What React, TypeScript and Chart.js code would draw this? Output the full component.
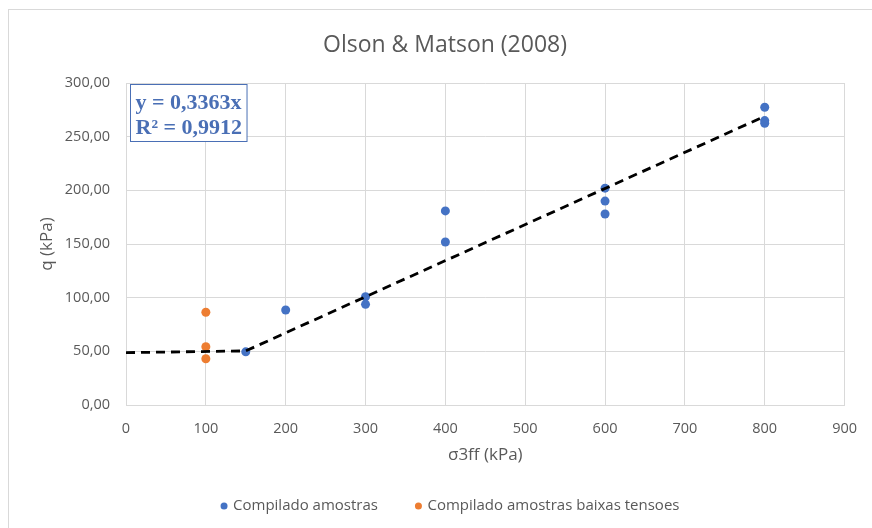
import React, { useEffect, useRef } from "react";
import { Chart, registerables } from "chart.js";

Chart.register(...registerables);

const chartTitle = "Olson & Matson (2008)";
const xAxisTitle = "σ3ff (kPa)";
const yAxisTitle = "q (kPa)";

const seriesNames = ["Compilado amostras", "Compilado amostras baixas tensoes"];

const compiladoX = [150, 200, 300, 300, 400, 400, 600, 600, 600, 800, 800, 800];
const compiladoY = [49.5, 88.5, 100.9, 93.8, 180.8, 151.9, 202, 190, 178, 277.4, 265, 262.5];

const baixasX = [100, 100, 100];
const baixasY = [86.4, 54.3, 43.1];

const trendX = [0, 150, 800];
const trendY = [48.8, 50.4, 269];

const equationLines = ["y = 0,3363x", "R² = 0,9912"];

const xMin = 0, xMax = 900, xStep = 100;
const yMin = 0, yMax = 300, yStep = 50;

const toPts = (xs: number[], ys: number[]) => xs.map((x, i) => ({ x, y: ys[i] }));

const BLUE = "#4472C4";
const ORANGE = "#ED7D31";
const GRID = "#d9d9d9";
const TEXT = "#595959";
const FONT = "'Open Sans', 'Noto Sans', sans-serif";

const framePlugin = {
  id: "frameEquationLegend",
  beforeDraw(chart: any) {
    const ctx = chart.ctx;
    ctx.save();
    ctx.fillStyle = "#ffffff";
    ctx.fillRect(0, 0, chart.width, chart.height);
    ctx.strokeStyle = GRID;
    ctx.lineWidth = 1;
    ctx.strokeRect(8.5, 9.5, chart.width + 20, chart.height + 20);
    ctx.restore();
  },
  afterDraw(chart: any) {
    const ctx = chart.ctx;
    const a = chart.chartArea;
    ctx.save();
    // equation box
    ctx.font = "bold 22px 'Liberation Serif', 'Times New Roman', serif";
    const w = Math.max(...equationLines.map((t) => ctx.measureText(t).width));
    const bx = a.left + 4.5;
    const by = a.top + 1.5;
    const bw = w + 10;
    const bh = 57;
    ctx.fillStyle = "#ffffff";
    ctx.fillRect(bx, by, bw, bh);
    ctx.strokeStyle = "#4a6fb5";
    ctx.lineWidth = 1;
    ctx.strokeRect(bx, by, bw, bh);
    ctx.fillStyle = "#4a6fb5";
    ctx.textBaseline = "middle";
    ctx.textAlign = "left";
    ctx.fillText(equationLines[0], bx + 5, by + 19);
    ctx.fillText(equationLines[1], bx + 5, by + 44);

    // legend
    const items = chart.data.datasets.filter((d: any) => d.label !== "trend");
    ctx.font = "15px " + FONT;
    const r = 3.5, gap = 5.5, spacing = 37;
    const widths = items.map((d: any) => 2 * r + gap + ctx.measureText(d.label).width);
    const total = widths.reduce((s: number, v: number) => s + v, 0) + spacing * (items.length - 1);
    let x = chart.width / 2 + 14 - total / 2;
    const y = 506;
    items.forEach((d: any, i: number) => {
      ctx.fillStyle = d.backgroundColor;
      ctx.beginPath();
      ctx.arc(x + r, y, r, 0, Math.PI * 2);
      ctx.fill();
      ctx.fillStyle = TEXT;
      ctx.textBaseline = "middle";
      ctx.fillText(d.label, x + 2 * r + gap, y);
      x += widths[i] + spacing;
    });
    ctx.restore();
  },
};

export default function App() {
  const ref = useRef<HTMLCanvasElement | null>(null);
  useEffect(() => {
    if (!ref.current) return;
    const chart = new Chart(ref.current, {
      type: "scatter",
      data: {
        datasets: [
          {
            type: "line",
            label: "trend",
            data: toPts(trendX, trendY),
            borderColor: "#000000",
            borderWidth: 2.8,
            borderDash: [9, 6],
            pointRadius: 0,
            fill: false,
            tension: 0,
          } as any,
          {
            label: seriesNames[0],
            data: toPts(compiladoX, compiladoY),
            backgroundColor: BLUE,
            borderColor: BLUE,
            pointRadius: 4.5,
            pointBorderWidth: 0,
          },
          {
            label: seriesNames[1],
            data: toPts(baixasX, baixasY),
            backgroundColor: ORANGE,
            borderColor: ORANGE,
            pointRadius: 4.5,
            pointBorderWidth: 0,
          },
        ],
      },
      options: {
        animation: false,
        responsive: false,
        devicePixelRatio: 1,
        layout: { padding: { left: 41, right: 23, top: 10, bottom: 0 } },
        plugins: {
          title: {
            display: true,
            text: chartTitle,
            color: TEXT,
            font: { family: FONT, size: 23, weight: "normal" as any },
            padding: { top: 21.2, bottom: 24.2 },
          },
          legend: { display: false },
          tooltip: { enabled: false },
        },
        scales: {
          x: {
            type: "linear",
            min: xMin,
            max: xMax,
            ticks: {
              stepSize: xStep,
              color: TEXT,
              font: { family: FONT, size: 14.5 },
              padding: 15,
            },
            grid: { color: GRID, drawTicks: false },
            border: { color: GRID },
            title: {
              display: true,
              text: xAxisTitle,
              color: TEXT,
              font: { family: FONT, size: 17 },
              padding: { top: 0, bottom: 62.8 },
            },
            afterFit: (s: any) => {
              s.height = 123;
            },
          },
          y: {
            type: "linear",
            min: yMin,
            max: yMax,
            ticks: {
              stepSize: yStep,
              color: TEXT,
              font: { family: FONT, size: 14.5 },
              padding: 16,
              callback: (v: any) => Number(v).toFixed(2).replace(".", ","),
            },
            grid: { color: GRID, drawTicks: false },
            border: { color: GRID },
            title: {
              display: true,
              text: yAxisTitle,
              color: TEXT,
              font: { family: FONT, size: 17 },
              padding: { top: -4, bottom: 0 },
            },
            afterFit: (s: any) => {
              s.width = 85;
            },
          },
        },
      },
      plugins: [framePlugin],
    });
    return () => chart.destroy();
  }, []);
  return (
    <div style={{ position: "fixed", left: 0, top: 0, width: 872, height: 528 }}>
      <canvas ref={ref} width={872} height={528} style={{ width: 872, height: 528 }} />
    </div>
  );
}
